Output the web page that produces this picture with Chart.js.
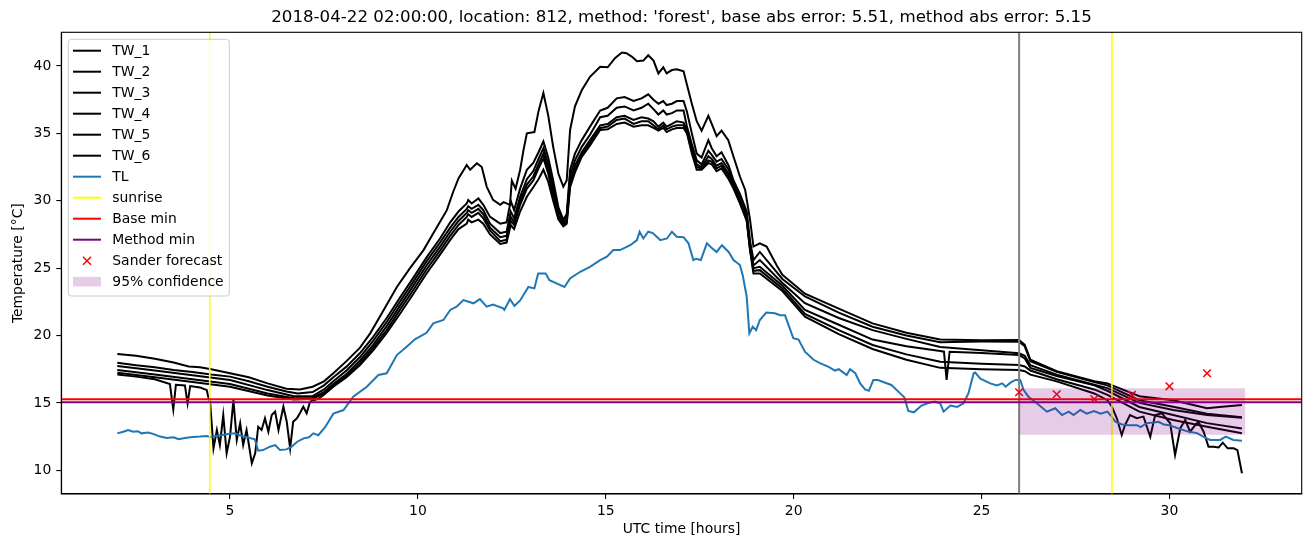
<!DOCTYPE html>
<html><head><meta charset="utf-8">
<script src="https://cdn.jsdelivr.net/npm/chart.js@4.4.1/dist/chart.umd.min.js"></script>
<style>html,body{margin:0;padding:0;background:#fff}canvas{display:block}</style>
</head><body>
<canvas id="c" width="1310" height="547"></canvas>
<script>
const TITLE = "2018-04-22 02:00:00, location: 812, method: 'forest', base abs error: 5.51, method abs error: 5.15";
const X_LABEL = "UTC time [hours]";
const Y_LABEL = "Temperature [°C]";
const xTicks = [5, 10, 15, 20, 25, 30];
const yTicks = [10, 15, 20, 25, 30, 35, 40];

const TW_1 = [[2,18.63],[2.5,18.5],[3,18.28],[3.5,18.0],[3.9,17.7],[4.2,17.64],[4.5,17.5],[5,17.2],[5.5,16.9],[6,16.45],[6.5,16.05],[6.86,16.0],[7.2,16.2],[7.5,16.6],[7.75,17.2],[8.1,18.1],[8.46,19.1],[8.73,20.16],[9.04,21.65],[9.44,23.6],[9.79,25.0],[10.15,26.34],[10.41,27.58],[10.77,29.3],[10.94,30.67],[11.08,31.66],[11.3,32.65],[11.39,32.3],[11.57,32.78],[11.7,32.5],[11.83,31.05],[12.0,30.06],[12.19,29.7],[12.28,29.9],[12.45,29.7],[12.5,31.5],[12.6,30.9],[12.72,32.28],[12.81,33.76],[12.9,35.0],[13.1,35.1],[13.21,36.65],[13.34,38.0],[13.47,36.3],[13.6,34.0],[13.74,32.0],[13.87,31.05],[13.96,31.5],[14.05,35.25],[14.18,37.0],[14.36,38.2],[14.58,39.2],[14.85,39.94],[15.05,39.9],[15.25,40.6],[15.43,41.0],[15.55,40.95],[15.69,40.7],[15.83,40.35],[16.0,40.4],[16.13,40.8],[16.27,40.4],[16.4,39.45],[16.53,39.9],[16.62,39.45],[16.76,39.7],[16.89,39.75],[17.07,39.6],[17.16,38.6],[17.29,37.2],[17.42,35.9],[17.55,35.2],[17.73,36.3],[17.82,35.7],[17.95,34.8],[18.08,35.2],[18.26,34.5],[18.4,33.27],[18.57,31.8],[18.71,30.8],[18.84,28.57],[18.93,26.6],[19.1,26.84],[19.28,26.6],[19.55,25.2],[19.7,24.5],[20.3,23.1],[21.2,22.0],[22.1,20.9],[23.0,20.2],[23.9,19.7],[25,19.65],[26,19.67],[26.15,19.3],[26.3,18.2],[27,17.35],[28,16.6],[28.35,16.45],[29.2,15.5],[30.1,15.2],[31,14.6],[31.4,14.72],[31.93,14.85]];

const TW_2 = [[2,17.98],[2.5,17.8],[3,17.65],[3.5,17.45],[4,17.3],[4.5,17.1],[5,16.95],[5.5,16.6],[6,16.2],[6.5,15.85],[6.8,15.7],[7.2,15.8],[7.5,16.3],[7.75,16.9],[8.1,17.69],[8.46,18.7],[8.81,19.9],[9.17,21.3],[9.52,22.8],[9.88,24.3],[10.23,25.8],[10.59,27.2],[10.86,28.4],[11.08,29.2],[11.3,29.8],[11.34,30.05],[11.43,29.8],[11.61,30.18],[11.74,29.7],[11.92,28.8],[12.19,28.3],[12.36,28.4],[12.47,30.0],[12.56,29.3],[12.72,30.9],[12.9,32.3],[13.07,32.8],[13.21,33.6],[13.34,34.4],[13.47,33.2],[13.6,31.5],[13.74,29.5],[13.87,28.6],[13.96,29.0],[14.05,32.3],[14.18,33.5],[14.36,34.5],[14.58,35.5],[14.85,36.7],[15.05,36.9],[15.29,37.6],[15.5,37.7],[15.74,37.4],[15.95,37.6],[16.13,37.9],[16.27,37.5],[16.4,37.2],[16.53,37.4],[16.62,37.1],[16.76,37.2],[16.89,37.4],[17.07,37.4],[17.16,36.6],[17.29,35.0],[17.42,33.5],[17.55,33.2],[17.73,34.5],[17.82,33.9],[17.95,33.3],[18.08,33.6],[18.27,32.6],[18.4,31.5],[18.57,30.5],[18.75,29.2],[18.84,27.0],[18.93,25.6],[19.1,26.2],[19.7,24.2],[20.3,22.9],[21.2,21.7],[22.1,20.65],[23.0,20.0],[23.9,19.5],[25,19.55],[26,19.54],[26.15,19.2],[26.3,18.1],[27,17.3],[28,16.55],[28.35,16.3],[29.2,15.2],[30.1,14.72],[31,14.2],[31.93,13.93]];

const TW_3 = [[2,17.74],[3,17.4],[4,17.05],[5,16.7],[6,15.95],[6.7,15.5],[7.2,15.5],[7.5,16.0],[7.75,16.6],[8.1,17.4],[8.46,18.4],[8.81,19.6],[9.17,21.0],[9.52,22.5],[9.88,24.0],[10.23,25.5],[10.59,26.9],[10.86,28.0],[11.08,28.8],[11.3,29.4],[11.34,29.6],[11.43,29.4],[11.61,29.7],[11.74,29.3],[11.92,28.3],[12.19,27.6],[12.36,27.7],[12.47,29.2],[12.56,28.7],[12.72,30.3],[12.9,31.6],[13.07,32.2],[13.21,33.1],[13.34,33.9],[13.47,32.7],[13.6,31.0],[13.74,29.2],[13.87,28.5],[13.96,28.8],[14.05,31.9],[14.18,33.0],[14.36,34.0],[14.58,34.9],[14.85,36.2],[15.05,36.3],[15.29,36.9],[15.5,37.0],[15.74,36.7],[15.95,36.9],[16.13,37.2],[16.27,36.8],[16.4,36.4],[16.53,36.7],[16.62,36.4],[16.76,36.5],[16.89,36.7],[17.07,36.7],[17.16,35.5],[17.29,34.2],[17.42,33.0],[17.55,32.7],[17.73,33.7],[17.82,33.4],[17.95,32.9],[18.08,33.1],[18.27,32.3],[18.4,31.3],[18.57,30.2],[18.75,28.9],[18.84,26.7],[18.93,25.2],[19.1,25.6],[19.7,23.9],[20.3,22.4],[21.2,21.3],[22.1,20.4],[23.0,19.75],[23.9,19.15],[25,18.9],[26,18.68],[26.15,18.5],[26.3,17.8],[27,17.1],[28,16.35],[28.35,16.1],[29.2,15.0],[30.1,14.47],[31,14.1],[31.93,13.9]];

const TW_4 = [[2,17.44],[3,17.1],[4,16.75],[5,16.4],[6,15.7],[6.7,15.35],[7.2,15.35],[7.5,15.8],[7.75,16.4],[8.1,17.15],[8.46,18.15],[8.81,19.3],[9.17,20.7],[9.52,22.2],[9.88,23.7],[10.23,25.2],[10.59,26.6],[10.86,27.7],[11.08,28.5],[11.3,29.1],[11.34,29.3],[11.43,29.1],[11.61,29.4],[11.74,29.0],[11.92,28.0],[12.19,27.3],[12.36,27.4],[12.47,28.8],[12.56,28.4],[12.72,30.0],[12.9,31.2],[13.07,31.8],[13.21,32.7],[13.34,33.5],[13.47,32.3],[13.6,30.6],[13.74,28.9],[13.87,28.3],[13.96,28.6],[14.05,31.5],[14.18,32.6],[14.36,33.6],[14.58,34.5],[14.85,35.6],[15.05,35.7],[15.29,36.2],[15.5,36.3],[15.74,36.0],[15.95,36.2],[16.13,36.1],[16.27,35.9],[16.4,35.5],[16.53,35.8],[16.62,35.5],[16.76,35.7],[16.89,35.9],[17.07,35.8],[17.16,35.25],[17.29,33.9],[17.42,32.7],[17.55,32.5],[17.73,33.3],[17.82,33.1],[17.95,32.6],[18.08,32.8],[18.27,32.0],[18.4,31.1],[18.57,30.0],[18.75,28.7],[18.84,26.5],[18.93,25.0],[19.1,25.1],[19.7,23.7],[20.3,21.9],[21.2,20.8],[22.1,19.7],[23.0,19.2],[23.9,18.85],[24.0,18.8],[24.07,16.7],[24.15,18.8],[25,18.7],[26,18.55],[26.15,18.3],[26.3,17.6],[27,17.0],[28,16.3],[28.35,15.9],[29.2,14.7],[30.1,14.1],[31,13.5],[31.93,13.1]];

const TW_5 = [[2,17.24],[3,16.9],[4,16.55],[5,16.2],[6,15.55],[6.7,15.25],[7.2,15.3],[7.5,15.7],[7.75,16.3],[8.1,17.0],[8.46,17.95],[8.81,19.1],[9.17,20.4],[9.52,21.9],[9.88,23.4],[10.23,24.9],[10.59,26.3],[10.86,27.4],[11.08,28.2],[11.3,28.8],[11.34,29.0],[11.43,28.8],[11.61,29.1],[11.74,28.7],[11.92,27.8],[12.19,27.0],[12.36,27.1],[12.47,28.5],[12.56,28.2],[12.72,29.7],[12.9,30.9],[13.07,31.5],[13.21,32.4],[13.34,33.15],[13.47,32.0],[13.6,30.3],[13.74,28.7],[13.87,28.2],[13.96,28.4],[14.05,31.2],[14.18,32.3],[14.36,33.4],[14.58,34.3],[14.85,35.4],[15.05,35.5],[15.29,36.0],[15.5,36.1],[15.74,35.7],[15.95,35.9],[16.13,35.9],[16.27,35.6],[16.4,35.3],[16.53,35.6],[16.62,35.3],[16.76,35.5],[16.89,35.6],[17.07,35.6],[17.16,35.1],[17.29,33.7],[17.42,32.5],[17.55,32.4],[17.73,33.0],[17.82,32.9],[17.95,32.4],[18.08,32.6],[18.27,31.8],[18.4,31.0],[18.57,29.9],[18.75,28.6],[18.84,26.4],[18.93,24.8],[19.1,24.85],[19.7,23.5],[20.3,21.6],[21.2,20.4],[22.1,19.3],[23.0,18.6],[23.9,18.05],[25,17.9],[26,17.81],[26.15,17.7],[26.3,17.4],[27,16.75],[28,16.0],[28.35,15.6],[29.2,14.35],[30.1,13.73],[31,13.23],[31.93,12.74]];

const TW_6 = [[2,17.1],[2.5,16.95],[3,16.75],[3.4,16.4],[3.49,14.52],[3.56,16.35],[3.8,16.3],[3.87,14.97],[3.94,16.25],[4.2,16.15],[4.38,15.96],[4.42,15.46],[4.47,15.09],[4.56,11.63],[4.65,12.99],[4.73,11.88],[4.82,14.1],[4.91,11.26],[5.0,12.49],[5.09,15.2],[5.18,12.25],[5.27,13.49],[5.35,11.88],[5.44,12.99],[5.58,10.52],[5.67,11.26],[5.75,13.23],[5.84,12.99],[5.93,13.86],[6.02,12.86],[6.11,14.1],[6.2,14.35],[6.29,12.99],[6.42,14.72],[6.51,13.6],[6.6,11.63],[6.68,13.6],[6.78,13.86],[6.86,14.23],[6.95,14.72],[7.04,14.23],[7.13,15.09],[7.22,15.2],[7.35,15.3],[7.5,15.6],[7.75,16.2],[8.1,16.9],[8.46,17.8],[8.81,18.9],[9.17,20.2],[9.52,21.6],[9.88,23.1],[10.23,24.6],[10.59,26.0],[10.86,27.1],[11.08,27.9],[11.3,28.3],[11.34,28.6],[11.43,28.4],[11.61,28.6],[11.74,28.3],[11.92,27.5],[12.19,26.8],[12.36,26.9],[12.47,28.2],[12.56,27.9],[12.72,29.2],[12.9,30.3],[13.07,31.0],[13.21,31.6],[13.34,32.3],[13.47,31.4],[13.6,30.0],[13.74,28.6],[13.87,28.1],[13.96,28.3],[14.05,31.0],[14.18,32.1],[14.36,33.26],[14.58,34.1],[14.85,35.25],[15.05,35.3],[15.29,35.7],[15.5,35.8],[15.74,35.5],[15.95,35.6],[16.13,35.6],[16.27,35.4],[16.4,35.2],[16.53,35.4],[16.62,35.1],[16.76,35.3],[16.89,35.4],[17.07,35.4],[17.16,35.0],[17.29,33.5],[17.42,32.3],[17.55,32.3],[17.73,32.8],[17.82,32.7],[17.95,32.2],[18.08,32.4],[18.27,31.6],[18.4,30.9],[18.57,29.8],[18.75,28.5],[18.84,26.3],[18.93,24.6],[19.1,24.6],[19.7,23.3],[20.3,21.4],[21.2,20.1],[22.1,19.0],[23.0,18.2],[23.9,17.6],[25,17.5],[26,17.44],[26.15,17.35],[26.3,17.1],[27,16.6],[28,15.7],[28.35,15.2],[28.47,14.72],[28.6,13.86],[28.73,12.62],[28.82,13.36],[28.95,14.1],[29.13,13.86],[29.31,13.98],[29.49,12.49],[29.62,14.1],[29.8,14.23],[30.02,13.49],[30.15,11.14],[30.29,13.12],[30.42,13.73],[30.55,12.86],[30.69,13.36],[30.77,13.6],[30.91,12.86],[31.04,11.75],[31.17,11.75],[31.31,11.7],[31.42,12.05],[31.55,11.63],[31.71,11.63],[31.81,11.5],[31.93,9.78]];

const TL = [[2,12.74],[2.16,12.86],[2.29,12.99],[2.42,12.86],[2.55,12.9],[2.64,12.74],[2.82,12.8],[2.95,12.7],[3.14,12.5],[3.32,12.4],[3.5,12.45],[3.63,12.3],[3.76,12.37],[3.94,12.45],[4.2,12.5],[4.38,12.55],[4.5,12.45],[4.6,12.55],[4.77,12.6],[4.95,12.7],[5.13,12.74],[5.35,12.5],[5.53,12.4],[5.66,12.3],[5.75,11.45],[5.88,11.5],[6.06,11.75],[6.2,11.87],[6.33,11.5],[6.5,11.55],[6.64,11.75],[6.78,12.1],[6.96,12.37],[7.1,12.45],[7.22,12.74],[7.35,12.6],[7.53,13.2],[7.75,14.2],[8.02,14.47],[8.28,15.46],[8.64,16.2],[8.95,17.07],[9.17,17.2],[9.44,18.55],[9.7,19.17],[9.92,19.72],[10.23,20.2],[10.41,20.9],[10.68,21.15],[10.86,21.9],[11.03,22.14],[11.21,22.63],[11.48,22.39],[11.65,22.7],[11.83,22.14],[12.0,22.3],[12.27,22.02],[12.3,21.9],[12.45,22.69],[12.57,22.2],[12.72,22.6],[12.94,23.6],[13.1,23.5],[13.2,24.6],[13.4,24.6],[13.5,24.1],[13.75,23.8],[13.9,23.6],[14.05,24.24],[14.32,24.73],[14.58,25.1],[14.85,25.6],[15.03,25.85],[15.2,26.34],[15.38,26.34],[15.65,26.7],[15.83,27.08],[15.9,27.7],[16.0,27.2],[16.13,27.7],[16.25,27.6],[16.45,27.08],[16.63,27.2],[16.76,27.7],[16.89,27.33],[17.07,27.3],[17.2,26.84],[17.33,25.6],[17.4,25.7],[17.53,25.6],[17.69,26.84],[17.82,26.5],[17.95,26.2],[18.09,26.7],[18.27,26.2],[18.4,25.6],[18.57,25.23],[18.65,24.4],[18.75,22.88],[18.82,20.16],[18.91,20.65],[19.0,20.4],[19.1,21.15],[19.27,21.7],[19.5,21.65],[19.64,21.5],[19.77,21.5],[19.99,19.8],[20.13,19.7],[20.3,18.8],[20.53,18.2],[20.7,17.95],[20.93,17.68],[21.1,17.4],[21.2,17.5],[21.41,17.07],[21.5,17.5],[21.64,17.2],[21.77,16.45],[21.9,16.0],[22.0,15.9],[22.12,16.7],[22.24,16.7],[22.6,16.33],[22.8,15.8],[22.95,15.4],[23.05,14.4],[23.2,14.3],[23.4,14.8],[23.6,15.0],[23.75,15.1],[23.9,14.97],[23.99,14.35],[24.17,14.8],[24.35,14.7],[24.52,14.97],[24.65,15.7],[24.79,17.2],[24.83,17.25],[24.97,16.8],[25.23,16.45],[25.41,16.3],[25.55,16.45],[25.64,16.2],[25.77,16.5],[25.9,16.7],[26.03,16.7],[26.12,15.96],[26.25,15.46],[26.47,14.97],[26.74,14.35],[26.96,14.6],[27.14,14.1],[27.32,14.35],[27.45,14.1],[27.63,14.47],[27.8,14.2],[27.99,14.4],[28.17,14.2],[28.35,14.35],[28.47,13.97],[28.56,13.6],[28.74,13.4],[28.91,13.35],[29.14,13.35],[29.23,13.2],[29.4,13.5],[29.58,13.55],[29.71,13.6],[29.85,13.4],[30.0,13.35],[30.24,13.1],[30.5,12.87],[30.73,12.76],[30.9,12.5],[31.08,12.25],[31.35,12.25],[31.5,12.5],[31.7,12.25],[31.93,12.2]];

const SUNRISE = [4.46, 28.47];
const FORECAST_START = 26.0;
const BASE_MIN = 15.28;
const METHOD_MIN = 15.04;
const SANDER_HOURS = [26, 27, 28, 29, 30, 31];
const SANDER_VALUES = [15.79, 15.64, 15.29, 15.59, 16.23, 17.2];
const CONF_HOURS = [26.0, 32.02];
const CONF_LOW = 12.64;
const CONF_HIGH = 16.08;

const X_MIN = 0.51, X_MAX = 33.52, Y_MIN = 8.24, Y_MAX = 42.5;

const FONT = "'DejaVu Sans', 'Liberation Sans', sans-serif";
const pts = arr => arr.map(([x, y]) => ({x, y}));

const datasets = [];
const twList = [TW_1, TW_2, TW_3, TW_4, TW_5, TW_6];
twList.forEach((d, i) => {
  datasets.push({label: 'TW_' + (i + 1), data: pts(d), borderColor: '#000000', borderWidth: 2, order: 20 - i});
});
datasets.push({label: 'TL', data: pts(TL), borderColor: '#1f77b4', borderWidth: 2, order: 10});
SUNRISE.forEach(h => datasets.push({label: 'sunrise', data: [{x: h, y: Y_MIN}, {x: h, y: Y_MAX}], borderColor: '#ffff00', borderWidth: 1.6, order: 9}));
datasets.push({label: 'forecast start', data: [{x: FORECAST_START, y: Y_MIN}, {x: FORECAST_START, y: Y_MAX}], borderColor: '#808080', borderWidth: 2, order: 8});
datasets.push({label: 'Base min', data: [{x: X_MIN, y: BASE_MIN}, {x: X_MAX, y: BASE_MIN}], borderColor: '#ff0000', borderWidth: 2, order: 7});
datasets.push({label: 'Method min', data: [{x: X_MIN, y: METHOD_MIN}, {x: X_MAX, y: METHOD_MIN}], borderColor: '#800080', borderWidth: 2, order: 6});
datasets.push({label: 'Sander forecast', data: SANDER_HOURS.map((h, i) => ({x: h, y: SANDER_VALUES[i]})), showLine: false, pointStyle: 'crossRot', pointRadius: 5.4, pointBorderWidth: 1.5, pointBorderColor: '#ff0000', borderColor: '#ff0000', order: 5});
datasets.push({label: '95% confidence', data: CONF_HOURS.map(h => ({x: h, y: CONF_HIGH})), borderWidth: 0, borderColor: 'rgba(0,0,0,0)', backgroundColor: 'rgba(128,0,128,0.2)', fill: {value: CONF_LOW}, order: 4});

const legendItems = [
  ['line', '#000000', 'TW_1'], ['line', '#000000', 'TW_2'], ['line', '#000000', 'TW_3'],
  ['line', '#000000', 'TW_4'], ['line', '#000000', 'TW_5'], ['line', '#000000', 'TW_6'],
  ['line', '#1f77b4', 'TL'], ['line', '#ffff00', 'sunrise'], ['line', '#ff0000', 'Base min'],
  ['line', '#800080', 'Method min'], ['x', '#ff0000', 'Sander forecast'], ['patch', 'rgba(128,0,128,0.2)', '95% confidence']
];

const deco = {
  id: 'deco',
  afterDraw(chart) {
    const ctx = chart.ctx, ca = chart.chartArea;
    ctx.save();
    // axes frame
    ctx.strokeStyle = '#000';
    ctx.lineWidth = 1.1;
    ctx.strokeRect(ca.left, ca.top, ca.right - ca.left, ca.bottom - ca.top);
    ctx.fillStyle = '#000';
    ctx.textAlign = 'center';
    ctx.textBaseline = 'middle';
    ctx.font = '16.67px ' + FONT;
    const cx = (ca.left + ca.right) / 2;
    ctx.fillText(TITLE, cx, 17.5);
    ctx.font = '13.9px ' + FONT;
    ctx.fillText(X_LABEL, cx, 529);
    ctx.save();
    ctx.translate(18, (ca.top + ca.bottom) / 2);
    ctx.rotate(-Math.PI / 2);
    ctx.fillText(Y_LABEL, 0, 0);
    ctx.restore();
    // legend
    const lx = 68.3, ly = 39.3, lw = 161, lh = 256.7, r = 3;
    ctx.beginPath();
    ctx.moveTo(lx + r, ly);
    ctx.arcTo(lx + lw, ly, lx + lw, ly + lh, r);
    ctx.arcTo(lx + lw, ly + lh, lx, ly + lh, r);
    ctx.arcTo(lx, ly + lh, lx, ly, r);
    ctx.arcTo(lx, ly, lx + lw, ly, r);
    ctx.closePath();
    ctx.fillStyle = 'rgba(255,255,255,0.8)';
    ctx.fill();
    ctx.strokeStyle = '#cccccc';
    ctx.lineWidth = 1;
    ctx.stroke();
    ctx.textAlign = 'left';
    legendItems.forEach((it, i) => {
      const y = 50.7 + 21 * i;
      const [kind, col, txt] = it;
      if (kind === 'line') {
        ctx.strokeStyle = col; ctx.lineWidth = 2;
        ctx.beginPath(); ctx.moveTo(73, y); ctx.lineTo(101, y); ctx.stroke();
      } else if (kind === 'x') {
        ctx.strokeStyle = col; ctx.lineWidth = 1.5;
        const s = 4, m = 87;
        ctx.beginPath(); ctx.moveTo(m - s, y - s); ctx.lineTo(m + s, y + s);
        ctx.moveTo(m - s, y + s); ctx.lineTo(m + s, y - s); ctx.stroke();
      } else {
        ctx.fillStyle = col;
        ctx.fillRect(73, y - 4.8, 28, 9.6);
      }
      ctx.fillStyle = '#000';
      ctx.fillText(txt, 112.3, y + 0.5);
    });
    ctx.restore();
  }
};

new Chart(document.getElementById('c'), {
  type: 'line',
  data: {datasets},
  plugins: [deco],
  options: {
    responsive: false,
    devicePixelRatio: 1,
    animation: false,
    events: [],
    layout: {padding: {top: 32.3, right: 8.3, left: 0, bottom: 0}},
    elements: {point: {radius: 0}, line: {tension: 0, fill: false}},
    plugins: {legend: {display: false}, title: {display: false}, tooltip: {enabled: false}},
    scales: {
      x: {
        type: 'linear', min: X_MIN, max: X_MAX,
        afterFit: s => { s.height = 53; },
        afterBuildTicks: s => { s.ticks = xTicks.map(v => ({value: v})); },
        grid: {display: true, drawOnChartArea: false, drawTicks: true, tickLength: 5, color: '#000', lineWidth: 1.1},
        border: {display: true, color: '#000', width: 1.1},
        ticks: {color: '#000', font: {family: FONT, size: 13.9}, padding: 4, maxRotation: 0, autoSkip: false, callback: v => String(v)}
      },
      y: {
        type: 'linear', min: Y_MIN, max: Y_MAX,
        afterFit: s => { s.width = 61.3; },
        afterBuildTicks: s => { s.ticks = yTicks.map(v => ({value: v})); },
        grid: {display: true, drawOnChartArea: false, drawTicks: true, tickLength: 5, color: '#000', lineWidth: 1.1},
        border: {display: true, color: '#000', width: 1.1},
        ticks: {color: '#000', font: {family: FONT, size: 13.9}, padding: 5, autoSkip: false, callback: v => String(v)}
      }
    }
  }
});
</script>
</body></html>
